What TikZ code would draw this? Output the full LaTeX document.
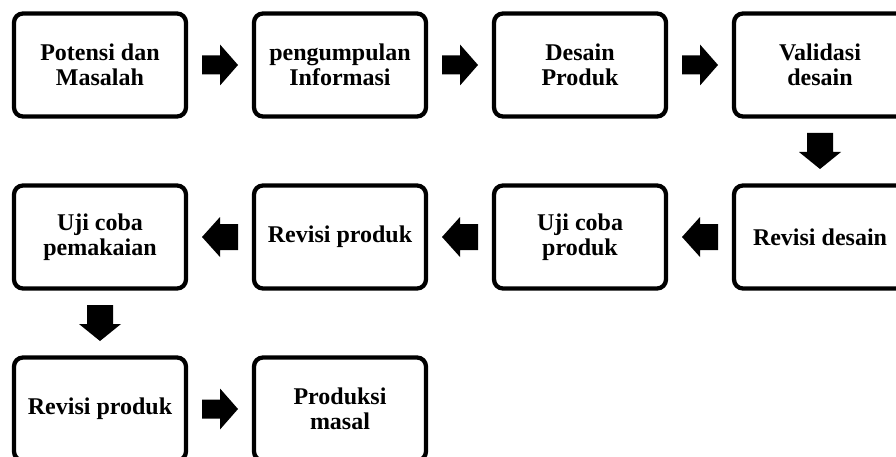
\documentclass[tikz,border=0pt]{standalone}
\usepackage{fontspec}
\setmainfont{Liberation Serif}
\usetikzlibrary{calc}
\begin{document}
\begin{tikzpicture}[x=1pt,y=-1pt,
  box/.style={draw=black, line width=4.3pt, rounded corners=9pt, fill=white,
    minimum width=172pt, minimum height=103pt, inner sep=0pt,
    align=center, font=\bfseries\fontsize{24}{25}\selectfont},
  arrR/.pic={\fill[black] (-18,-9.5) -- (0,-9.5) -- (0,-20.5) -- (18,0) -- (0,20.5) -- (0,9.5) -- (-18,9.5) -- cycle;},
  arrL/.pic={\fill[black] (18,-13) -- (0,-13) -- (0,-20) -- (-18,0) -- (0,20) -- (0,13) -- (18,13) -- cycle;},
  arrD/.pic={\fill[black] (-13,-18) -- (13,-18) -- (13,1) -- (21,1) -- (0,18) -- (-21,1) -- (-13,1) -- cycle;}
]
\useasboundingbox (0,0) rectangle (896,457);
\clip (0,0) rectangle (896,457);
% row 1
\node[box] (n1) at (100,65) {Potensi dan\\Masalah};
\node[box] (n2) at (340,65) {pengumpulan\\Informasi};
\node[box] (n3) at (580,65) {Desain\\Produk};
\node[box] (n4) at (820,65) {Validasi\\desain};
% row 2
\node[box] (n5) at (820,237) {Revisi desain};
\node[box] (n6) at (580,237) {Uji coba\\produk};
\node[box] (n7) at (340,237) {Revisi produk};
\node[box] (n8) at (100,237) {Uji coba\\pemakaian};
% row 3
\node[box] (n9) at (100,409) {Revisi produk};
\node[box] (n10) at (340,409) {Produksi\\masal};
% arrows
\pic at ($(n1.east)!0.5!(n2.west)$) {arrR};
\pic at ($(n2.east)!0.5!(n3.west)$) {arrR};
\pic at ($(n3.east)!0.5!(n4.west)$) {arrR};
\pic at ($(n4.south)!0.5!(n5.north)$) {arrD};
\pic at ($(n5.west)!0.5!(n6.east)$) {arrL};
\pic at ($(n6.west)!0.5!(n7.east)$) {arrL};
\pic at ($(n7.west)!0.5!(n8.east)$) {arrL};
\pic at ($(n8.south)!0.5!(n9.north)$) {arrD};
\pic at ($(n9.east)!0.5!(n10.west)$) {arrR};
\end{tikzpicture}
\end{document}
